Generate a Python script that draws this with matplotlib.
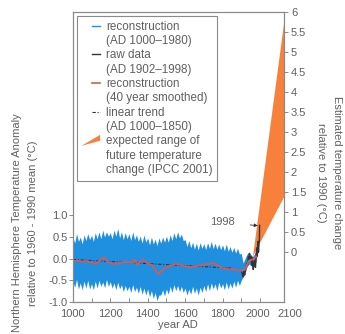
import numpy as np
import matplotlib
matplotlib.use("Agg")
import matplotlib.pyplot as plt
import matplotlib.patches as mpatches
import matplotlib.transforms as mtransforms
from matplotlib.lines import Line2D
from matplotlib.legend_handler import HandlerLine2D, HandlerPatch

plt.rcParams["font.family"] = ["Liberation Sans", "DejaVu Sans"]

# --- data --------------------------------------------------------------
# blue reconstruction band (upper / lower envelope), 10-year steps
band_years = list(range(1000, 1910, 10)) + [1910, 1920, 1930, 1940, 1950, 1960, 1970, 1980]
band_upper = [
    0.50, 0.36, 0.58, 0.40, 0.50, 0.34, 0.55, 0.42, 0.58, 0.44,
    0.54, 0.40, 0.60, 0.46, 0.62, 0.46, 0.66, 0.50, 0.62, 0.52,
    0.60, 0.46, 0.66, 0.52, 0.70, 0.48, 0.62, 0.44, 0.60, 0.46,
    0.58, 0.42, 0.62, 0.44, 0.55, 0.40, 0.52, 0.36, 0.55, 0.38,
    0.48, 0.32, 0.50, 0.34, 0.45, 0.30, 0.48, 0.36, 0.50, 0.38,
    0.52, 0.38, 0.55, 0.42, 0.60, 0.46, 0.62, 0.48, 0.57, 0.42,
    0.44, 0.28, 0.42, 0.25, 0.38, 0.22, 0.36, 0.20, 0.37, 0.24,
    0.35, 0.21, 0.37, 0.24, 0.40, 0.23, 0.36, 0.22, 0.34, 0.21,
    0.32, 0.18, 0.34, 0.17, 0.28, 0.15, 0.26, 0.13, 0.24, 0.11,
    0.12,
    -0.10, 0.00, 0.10, 0.15, 0.10, 0.05, 0.10, 0.20,
]
band_lower = [
    -0.52, -0.66, -0.48, -0.70, -0.56, -0.72, -0.52, -0.68, -0.50, -0.70,
    -0.58, -0.72, -0.52, -0.68, -0.50, -0.64, -0.54, -0.67, -0.48, -0.64,
    -0.53, -0.68, -0.56, -0.72, -0.54, -0.70, -0.60, -0.76, -0.62, -0.74,
    -0.64, -0.78, -0.60, -0.76, -0.66, -0.80, -0.64, -0.82, -0.68, -0.84,
    -0.70, -0.88, -0.74, -0.92, -0.78, -0.97, -0.84, -0.84, -0.72, -0.86,
    -0.70, -0.82, -0.64, -0.78, -0.60, -0.74, -0.62, -0.76, -0.64, -0.78,
    -0.68, -0.84, -0.70, -0.82, -0.64, -0.80, -0.68, -0.84, -0.66, -0.78,
    -0.62, -0.76, -0.58, -0.74, -0.56, -0.70, -0.58, -0.74, -0.54, -0.68,
    -0.58, -0.72, -0.54, -0.70, -0.56, -0.68, -0.52, -0.66, -0.50, -0.62,
    -0.50,
    -0.42, -0.35, -0.20, -0.12, -0.15, -0.20, -0.18, -0.05,
]

# 40 year smoothed reconstruction
smooth_years = [1000, 1025, 1050, 1075, 1100, 1125, 1150, 1165, 1180, 1200,
                1225, 1250, 1275, 1300, 1315, 1330, 1345, 1360, 1375, 1390,
                1400, 1425, 1450, 1460, 1475, 1500, 1525, 1550, 1575, 1600,
                1625, 1650, 1675, 1700, 1725, 1750, 1775, 1800, 1825, 1850,
                1875, 1900, 1920, 1940, 1960, 1980]
smooth_vals = [-0.06, -0.05, -0.07, -0.06, -0.08, -0.12, -0.02, 0.03, -0.05, -0.10,
               -0.12, -0.10, -0.08, -0.08, -0.10, -0.02, -0.14, -0.08, -0.03, -0.06,
               -0.12, -0.15, -0.32, -0.35, -0.28, -0.20, -0.16, -0.12, -0.14, -0.18,
               -0.20, -0.18, -0.16, -0.14, -0.12, -0.10, -0.16, -0.22, -0.25, -0.24,
               -0.26, -0.28, -0.25, -0.05, -0.02, 0.05]

# raw instrumental data
raw_years = [1902, 1906, 1910, 1914, 1918, 1922, 1926, 1930, 1934, 1938,
             1942, 1944, 1948, 1952, 1956, 1960, 1964, 1968, 1972, 1976,
             1980, 1983, 1986, 1988, 1990, 1992, 1995, 1997, 1998]
raw_vals = [-0.30, -0.35, -0.42, -0.30, -0.38, -0.25, -0.18, -0.10, -0.15, 0.05,
            -0.05, 0.12, -0.02, 0.05, -0.15, 0.02, -0.25, -0.10, -0.05, -0.20,
            0.10, 0.25, 0.05, 0.30, 0.40, 0.15, 0.35, 0.45, 0.77]

# linear trend AD 1000-1850
trend_years = [1000, 1850]
trend_vals = [-0.02, -0.22]

# IPCC 2001 projected range (right axis, relative to 1990)
fan_years = [1960, 2100]
fan_lower = [-0.1, 1.4]
fan_upper = [-0.1, 5.8]

x_ticks = [1000, 1200, 1400, 1600, 1800, 2000, 2100]
left_ticks = [-1.0, -0.5, 0.0, 0.5, 1.0]
right_ticks = [0, 0.5, 1, 1.5, 2, 2.5, 3, 3.5, 4, 4.5, 5, 5.5, 6]

legend_labels = ["reconstruction", "(AD 1000\u20131980)",
                 "raw data", "(AD 1902\u20131998)",
                 "reconstruction", "(40 year smoothed)",
                 "linear trend", "(AD 1000\u20131850)",
                 "expected range of", "future temperature", "change (IPCC 2001)"]

# --- styling ------------------------------------------------------------
BLUE = "#1f8fe0"
RED = "#d25a5c"
DARK = "#333333"
ORANGE = "#f7803a"
GREY = "#8a8a8a"
TEXT = "#606060"
STRETCH = 1.28  # the years after 2000 are drawn wider


def _fwd(x):
    x = np.asarray(x, dtype=float)
    return np.where(x <= 2000, x, 2000 + STRETCH * (x - 2000))


def _inv(y):
    y = np.asarray(y, dtype=float)
    return np.where(y <= 2000, y, 2000 + (y - 2000) / STRETCH)


class RightDash(HandlerLine2D):
    """Short line handle sitting at the right end of the handle box."""

    def get_xdata(self, legend, xdescent, ydescent, width, height, fontsize):
        x = np.array([-xdescent + 0.55 * width, -xdescent + width])
        return x, x


def wedge(legend, orig_handle, xdescent, ydescent, width, height, fontsize):
    return mpatches.Polygon(
        [(-xdescent, -ydescent - 1), (width - xdescent, height - ydescent + 1),
         (width - xdescent, 0.45 * height - ydescent)], closed=True)


fig = plt.figure(figsize=(3.45, 3.34), dpi=100)
ax = fig.add_axes([0.211, 0.096, 0.612, 0.868])
ax.set_xscale("function", functions=(_fwd, _inv))
ax2 = ax.twinx()
ax.set_zorder(ax2.get_zorder() + 1)
ax.patch.set_visible(False)

ax.fill_between(band_years, band_lower, band_upper, color=BLUE, lw=0)
ax.plot(trend_years, trend_vals, color=DARK, lw=0.8, ls=(0, (3, 1.5, 1, 1.5)))
ax.plot(raw_years, raw_vals, color=DARK, lw=1.0)
ax.plot(smooth_years, smooth_vals, color=RED, lw=1.4)

ax2.fill_between(fan_years, fan_lower, fan_upper, color=ORANGE, lw=0)

ax.annotate("1998", xy=(1996, 0.76), xytext=(1800, 0.84),
            ha="center", va="center", fontsize=8, color=TEXT,
            arrowprops=dict(arrowstyle="-|>", color=DARK, lw=0.6,
                            mutation_scale=5, shrinkA=9, shrinkB=1))

ax.set_xlim(1000, 2100)
ax.set_ylim(-1.0, 5.70)
ax2.set_ylim(-1.25, 6.0)

ax.set_xticks(x_ticks)
ax.set_xticks([1100, 1300, 1500, 1700, 1900], minor=True)
ax.set_xticklabels([str(t) for t in x_ticks])
ax.set_yticks(left_ticks)
ax.set_yticklabels([f"{t:.1f}" for t in left_ticks])
ax2.set_yticks(right_ticks)
ax2.set_yticklabels([f"{t:g}" for t in right_ticks])

for a in (ax, ax2):
    for s in a.spines.values():
        s.set_color(GREY)
        s.set_linewidth(0.8)
ax.tick_params(axis="x", which="both", direction="in", length=3, width=0.7,
               color=GREY, labelsize=8, labelcolor=TEXT, pad=5)
ax.tick_params(axis="y", direction="out", length=3, width=0.7,
               color=GREY, labelsize=8, labelcolor=TEXT, pad=0.5)
ax2.tick_params(axis="y", direction="out", length=3, width=0.7,
                color=GREY, labelsize=8, labelcolor=TEXT, pad=2)

# the last two year labels sit a little apart in the reference
xlabels = ax.get_xticklabels()
xlabels[-2].set_transform(xlabels[-2].get_transform() +
                          mtransforms.ScaledTranslation(-2 / 100, 0, fig.dpi_scale_trans))
xlabels[-1].set_transform(xlabels[-1].get_transform() +
                          mtransforms.ScaledTranslation(6 / 100, 0, fig.dpi_scale_trans))

ax.set_xlabel("year AD", fontsize=8, color=TEXT, labelpad=1)
ax.set_ylabel("Northern Hemisphere Temperature Anomaly\nrelative to 1960 - 1990 mean (\u00b0C)",
              fontsize=8, color=TEXT, ha="center", va="center", linespacing=1.7)
ax.yaxis.set_label_coords(-0.225, 0.272)
ax2.set_ylabel("Estimated temperature change\nrelative to 1990 (\u00b0C)",
               fontsize=8, color=TEXT, rotation=270, ha="center", va="center",
               linespacing=1.7)
ax2.yaxis.set_label_coords(1.213, 0.445)

# legend: one row per text line, the handle on the first line of each entry
blank = Line2D([], [], color="none")
handles = [
    Line2D([], [], color=BLUE, lw=1.0), blank,
    Line2D([], [], color=DARK, lw=1.0), blank,
    Line2D([], [], color=RED, lw=1.2), blank,
    Line2D([], [], color=DARK, lw=0.8, ls=(0, (3, 1.5, 1, 1.5))), blank,
    mpatches.Patch(facecolor=ORANGE, edgecolor="none"), blank, blank,
]
leg = ax.legend(handles, legend_labels, loc="upper left",
                bbox_to_anchor=(0.019, 0.986), borderaxespad=0,
                prop={"size": 8.4}, labelcolor=TEXT, frameon=True, fancybox=False,
                edgecolor=GREY, framealpha=1, borderpad=0.4,
                labelspacing=0.2, handlelength=1.6, handletextpad=0.5,
                handler_map={Line2D: RightDash(),
                             mpatches.Patch: HandlerPatch(patch_func=wedge)})
leg.get_frame().set_linewidth(0.8)

fig.savefig("out.png", dpi=100)
plt.close(fig)
